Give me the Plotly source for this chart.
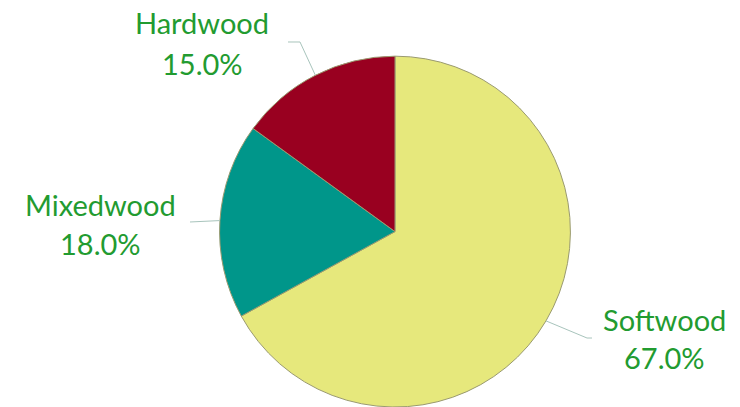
import math
import plotly.graph_objects as go

# ---- data ----
categories = ["Softwood", "Mixedwood", "Hardwood"]
values = [67.0, 18.0, 15.0]
slice_colors = ["#E6E87C", "#00968A", "#990020"]

# ---- layout constants ----
W, H = 740, 407
label_px = {  # label center x, name line y, percent line y (pixels)
    "Hardwood": (202, 23, 63),
    "Mixedwood": (100, 204, 244),
    "Softwood": (664, 319, 357),
}
line_end_px = {
    "Hardwood": [(300, 42), (288, 42)],
    "Mixedwood": [(190, 222)],
    "Softwood": [(587, 338), (592, 338)],
}
text_color = "#229B30"
font_family = "Lato, 'Open Sans', sans-serif"
font_size = 29

dom_y = [0.0, 0.862]
cx_frac = 395 / W
half_w = 0.36
dom_x = [cx_frac - half_w, cx_frac + half_w]

fig = go.Figure(go.Pie(
    labels=categories,
    values=values,
    marker=dict(colors=slice_colors, line=dict(color="#9A9A70", width=1)),
    sort=False,
    direction="clockwise",
    rotation=0,
    textinfo="none",
    hoverinfo="label+percent",
    domain=dict(x=dom_x, y=dom_y),
    showlegend=False,
))

# pie geometry in pixels
cx = cx_frac * W
cy = H - (dom_y[0] + dom_y[1]) / 2 * H
r = (dom_y[1] - dom_y[0]) / 2 * H

def px2paper(x, y):
    return x / W, 1 - y / H

total = sum(values)
cum = 0.0
shapes = []
annotations = []
for cat, v in zip(categories, values):
    mid = (cum + v / 2) / total * 2 * math.pi
    cum += v
    sx = cx + r * math.sin(mid)
    sy = cy - r * math.cos(mid)
    pts = [(sx, sy)] + line_end_px[cat]
    path = ""
    for i, (x, y) in enumerate(pts):
        px_, py_ = px2paper(x, y)
        path += ("M" if i == 0 else " L") + f" {px_:.5f},{py_:.5f}"
    shapes.append(dict(type="path", path=path, xref="paper", yref="paper",
                       line=dict(color="#A8C4BC", width=1)))
    lx, ly1, ly2 = label_px[cat]
    pct = v / total * 100
    for txt, ly in ((cat, ly1), (f"{pct:.1f}%", ly2)):
        ax, ay = px2paper(lx, ly)
        annotations.append(dict(text=txt, x=ax, y=ay, xref="paper", yref="paper",
                                showarrow=False, xanchor="center", yanchor="middle",
                                font=dict(family=font_family, size=font_size, color=text_color)))

fig.update_layout(
    width=W, height=H,
    margin=dict(l=0, r=0, t=0, b=0),
    paper_bgcolor="white",
    plot_bgcolor="white",
    shapes=shapes,
    annotations=annotations,
)

fig.write_html("out.html")
